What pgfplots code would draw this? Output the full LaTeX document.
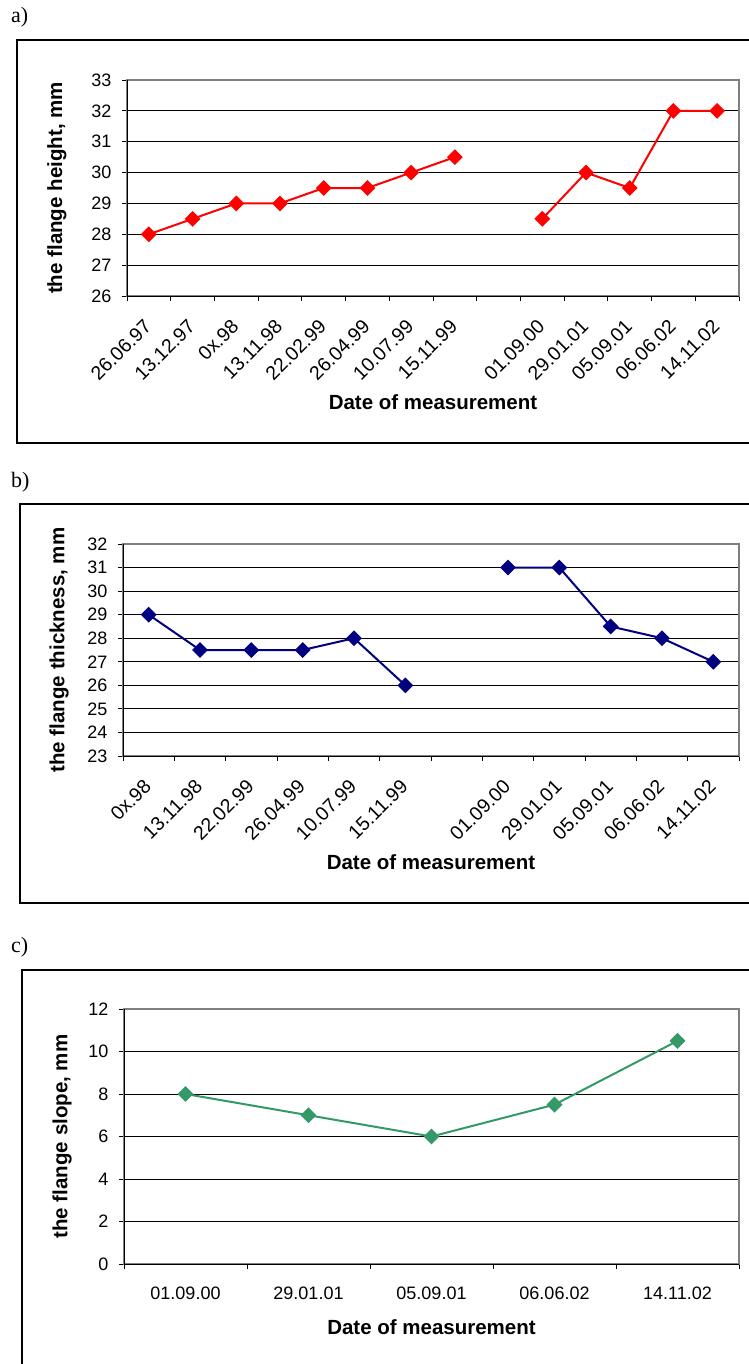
\documentclass[border=0pt]{standalone}
\usepackage{fontspec}
\setmainfont{Liberation Sans}
\newfontfamily\serifx{Liberation Serif}
\usepackage{pgfplots}
\pgfplotsset{compat=1.18}
\definecolor{cred}{HTML}{FF0000}
\definecolor{cnavy}{HTML}{000080}
\definecolor{cgreen}{HTML}{339966}
\pgfplotsset{
  mystyle/.style={
    scale only axis,
    axis line style={draw=gray, line width=2pt},
    ymajorgrids, major grid style={black, line width=1pt},
    tick align=outside,
    xtick pos=bottom, ytick pos=left,
    major tick length=5pt, minor tick length=5pt,
    tick style={black, line width=1pt},
    major x tick style={draw=none},
    ticklabel style={font=\fontsize{18}{20}\selectfont},
    yticklabel style={xshift=-7pt},
    /pgf/number format/assume math mode=true,
    label style={font=\bfseries\fontsize{20.5}{24}\selectfont},
    ylabel style={anchor=center},
    xlabel style={at={(axis description cs:0.5,0)}, anchor=center},
    clip=false,
    unbounded coords=jump,
    every axis plot/.append style={line width=2pt},
  },
  rotlabels/.style={
    xticklabel style={font=\fontsize{19.5}{21}\selectfont, xshift=-6pt, yshift=-17pt, rotate=45, anchor=north east, inner sep=0pt},
  },
  after end axis/.code={
    \draw[black, line width=1pt] (rel axis cs:0,1) -- (rel axis cs:0,0) -- (rel axis cs:1,0);
  },
}
\begin{document}
\begin{tikzpicture}
\useasboundingbox (0,0) rectangle (748pt,-1364pt);
% frames
\draw[line width=1.5pt] (770pt,-40pt) -- (17pt,-40pt) -- (17pt,-443pt) -- (770pt,-443pt);
\draw[line width=1.5pt] (770pt,-504pt) -- (20pt,-504pt) -- (20pt,-903pt) -- (770pt,-903pt);
\draw[line width=1.5pt] (770pt,-970pt) -- (22pt,-970pt) -- (22pt,-1380pt);
\node[anchor=base west, font=\serifx\fontsize{22}{26}\selectfont, inner sep=0pt] at (11pt,-23pt) {a)};
\node[anchor=base west, font=\serifx\fontsize{22}{26}\selectfont, inner sep=0pt] at (11pt,-487pt) {b)};
\node[anchor=base west, font=\serifx\fontsize{22}{26}\selectfont, inner sep=0pt] at (11pt,-952pt) {c)};

% a)
\begin{axis}[mystyle, rotlabels,
  at={(127pt,-296pt)}, anchor=south west,
  width=612pt, height=216pt,
  xmin=0.5, xmax=14.5, ymin=26, ymax=33,
  ytick={26,...,33},
  xtick={1,...,14},
  minor xtick={0.5,1.5,...,14.5},
  xticklabels={26.06.97,13.12.97,0x.98,13.11.98,22.02.99,26.04.99,10.07.99,15.11.99,{},01.09.00,29.01.01,05.09.01,06.06.02,14.11.02},
  ylabel={the flange height, mm}, ylabel style={at={(axis description cs:-0.1144,0.5)}},
  xlabel={Date of measurement}, xlabel style={yshift=-106pt},
]
\addplot[cred, mark=square*, mark size=4.6pt, mark options={fill=cred, rotate=45, solid}] coordinates {
 (1,28) (2,28.5) (3,29) (4,29) (5,29.5) (6,29.5) (7,30) (8,30.5) (9,nan)
 (10,28.5) (11,30) (12,29.5) (13,32) (14,32)};
\end{axis}

% b)
\begin{axis}[mystyle, rotlabels,
  at={(123pt,-756pt)}, anchor=south west,
  width=616pt, height=212pt,
  xmin=0.5, xmax=12.5, ymin=23, ymax=32,
  ytick={23,...,32},
  xtick={1,...,12},
  minor xtick={0.5,1.5,...,12.5},
  xticklabels={0x.98,13.11.98,22.02.99,26.04.99,10.07.99,15.11.99,{},01.09.00,29.01.01,05.09.01,06.06.02,14.11.02},
  ylabel={the flange thickness, mm}, ylabel style={at={(axis description cs:-0.1039,0.5)}},
  xlabel={Date of measurement}, xlabel style={yshift=-106pt},
]
\addplot[cnavy, mark=square*, mark size=4.6pt, mark options={fill=cnavy, rotate=45, solid}] coordinates {
 (1,29) (2,27.5) (3,27.5) (4,27.5) (5,28) (6,26) (7,nan)
 (8,31) (9,31) (10,28.5) (11,28) (12,27)};
\end{axis}

% c)
\begin{axis}[mystyle,
  at={(124pt,-1264pt)}, anchor=south west,
  width=615pt, height=255pt,
  xmin=0.5, xmax=5.5, ymin=0, ymax=12,
  ytick={0,2,...,12},
  xtick={1,...,5},
  minor xtick={0.5,1.5,...,5.5},
  xticklabels={01.09.00,29.01.01,05.09.01,06.06.02,14.11.02},
  xticklabel style={anchor=north, yshift=-14pt},
  ylabel={the flange slope, mm}, ylabel style={at={(axis description cs:-0.1008,0.5)}},
  xlabel={Date of measurement}, xlabel style={yshift=-63pt},
]
\addplot[cgreen, mark=square*, mark size=4.6pt, mark options={fill=cgreen, rotate=45, solid}] coordinates {
 (1,8) (2,7) (3,6) (4,7.5) (5,10.5)};
\end{axis}
\end{tikzpicture}
\end{document}
